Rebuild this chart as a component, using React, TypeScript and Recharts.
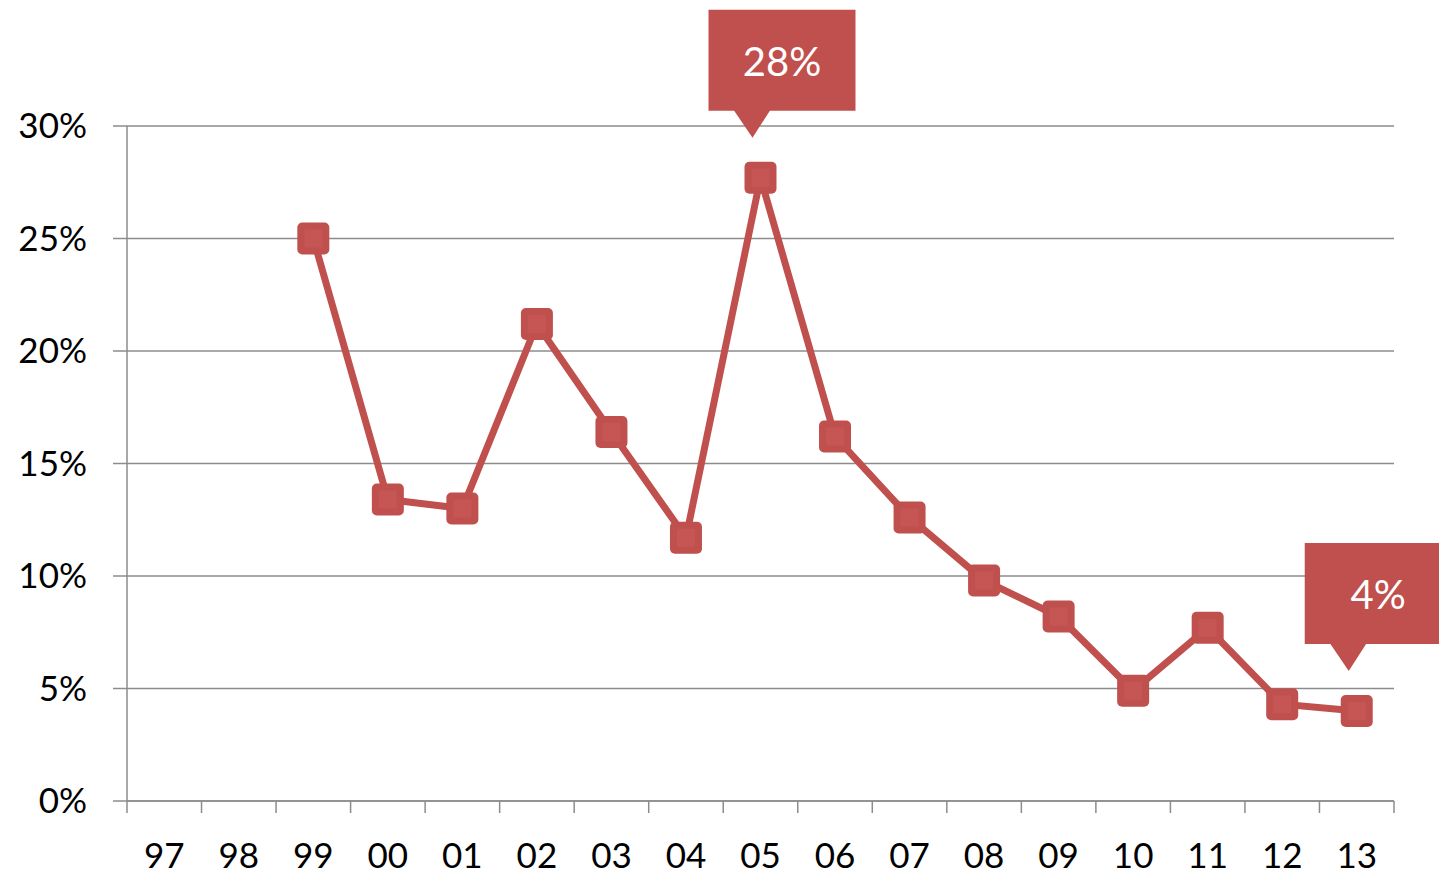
import { LineChart, Line, XAxis, YAxis, CartesianGrid } from "recharts";

const years = ["97", "98", "99", "00", "01", "02", "03", "04", "05", "06", "07", "08", "09", "10", "11", "12", "13"];
const rates = [null, null, 25.0, 13.4, 13.0, 21.2, 16.4, 11.7, 27.7, 16.2, 12.6, 9.8, 8.2, 4.9, 7.7, 4.3, 4.0];
const yTicks = [0, 5, 10, 15, 20, 25, 30];
const calloutYears = ["05", "13"];

const RED = "#C0504D";
const GRID = "#8c8c8c";
const FONT = "Lato, 'Open Sans', sans-serif";

const W = 1439;
const H = 874;
const M = { top: 126, right: 45, bottom: 0, left: 0 };
const Y_W = 127;
const X_H = 73;
const catW = (W - M.left - M.right - Y_W) / years.length;

const data = years.map((year, i) => ({ x: i + 0.5, year, v: rates[i] }));
const xTicks = years.map((_, i) => i).concat(years.length);

function XTick(props: any) {
  const { x, y, payload } = props;
  const i = payload.value;
  if (i >= years.length) return null;
  return (
    <text x={x + catW / 2} y={y + 53} textAnchor="middle" fontSize={35} fontFamily={FONT} fill="#000">
      {years[i]}
    </text>
  );
}

function Marker(props: any) {
  const { cx, cy, payload } = props;
  if (cx == null || cy == null || payload.v == null) return null;
  const s = 32;
  const showCallout = calloutYears.includes(payload.year);
  return (
    <g>
      <rect x={cx - s / 2} y={cy - s / 2} width={s} height={s} rx={5} fill={RED} />
      <rect x={cx - 9} y={cy - 9} width={18} height={18} fill="#c55654" />
      {showCallout && (
        <g>
          <rect x={cx - 52} y={cy - 168} width={147} height={101} fill={RED} />
          <polygon
            points={`${cx - 27},${cy - 68} ${cx + 10},${cy - 68} ${cx - 8},${cy - 40}`}
            fill={RED}
          />
          <text
            x={cx + 21.5}
            y={cy - 102}
            textAnchor="middle"
            fontSize={40}
            fontFamily={FONT}
            fill="#fff"
          >
            {Math.round(payload.v)}%
          </text>
        </g>
      )}
    </g>
  );
}

export default function App() {
  return (
    <div style={{ position: "absolute", left: 0, top: 0, background: "#fff" }}>
      <LineChart width={W} height={H} data={data} margin={M}>
        <CartesianGrid vertical={false} stroke={GRID} strokeWidth={1.5} />
        <XAxis
          type="number"
          dataKey="x"
          domain={[0, years.length]}
          ticks={xTicks}
          interval={0}
          height={X_H}
          tickSize={12}
          tick={<XTick />}
          axisLine={{ stroke: GRID, strokeWidth: 1.5 }}
          tickLine={{ stroke: GRID, strokeWidth: 1.5 }}
        />
        <YAxis
          domain={[0, 30]}
          ticks={yTicks}
          width={Y_W}
          tickSize={14}
          tickMargin={26}
          tickFormatter={(v) => `${v}%`}
          tick={{ fontSize: 35, fontFamily: FONT, fill: "#000" }}
          axisLine={{ stroke: GRID, strokeWidth: 1.5 }}
          tickLine={{ stroke: GRID, strokeWidth: 1.5 }}
        />
        <Line
          type="linear"
          dataKey="v"
          stroke={RED}
          strokeWidth={7}
          dot={<Marker />}
          activeDot={false}
          isAnimationActive={false}
        />
      </LineChart>
    </div>
  );
}
